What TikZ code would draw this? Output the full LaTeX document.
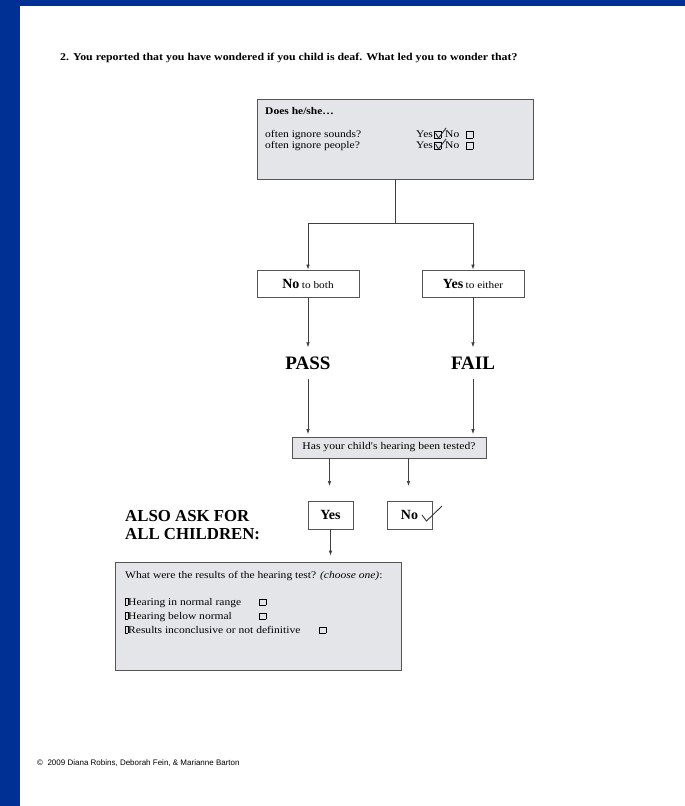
\documentclass[tikz,border=0pt]{standalone}
\usepackage{fontspec}
\setmainfont{Liberation Serif}
\newfontfamily\widef[FakeStretch=1.13]{Liberation Serif}
\newfontfamily\arialf{Liberation Sans}
\usetikzlibrary{arrows.meta}
\definecolor{slideblue}{RGB}{0,48,148}
\definecolor{boxfill}{RGB}{227,229,233}
\definecolor{boxline}{RGB}{85,85,85}
\newcommand\cbx{{\setlength\fboxsep{0pt}\setlength\fboxrule{0.4pt}\fbox{\rule{0pt}{6pt}\rule{6pt}{0pt}}}}
\newcommand\gbx{{\setlength\fboxsep{0pt}\setlength\fboxrule{0.4pt}\fbox{\rule{0pt}{6.5pt}\rule{2.2pt}{0pt}}}}
\begin{document}
\begin{tikzpicture}[x=1pt,y=-1pt,
  gbox/.style={draw=boxline,fill=boxfill,line width=0.8pt,inner sep=0pt},
  wbox/.style={draw=boxline,fill=white,line width=0.8pt,inner sep=0pt},
  conn/.style={draw=black!75,line width=0.7pt},
  arr/.style={conn,-{Latex[length=5pt,width=3.6pt]}},
  txt/.style={inner sep=0pt,anchor=base west,font=\widef\fontsize{10.2}{12}\selectfont},
  big/.style={font=\fontsize{19}{19}\selectfont\bfseries,inner xsep=0pt,inner ysep=9pt,text height=13pt,text depth=0pt},
  chk/.style={line width=0.9pt,black!80}]
\useasboundingbox (0,0) rectangle (685,806);
\fill[slideblue] (0,0) rectangle (685,806);
\fill[white] (20,6) rectangle (685,806);

% title
\node[inner sep=0pt,anchor=base west,font=\widef\fontsize{10.5}{12}\selectfont\bfseries] (title) at (60,60.5)
  {2. You reported that you have wondered if you child is deaf. What led you to wonder that?};

% top question box
\node[gbox,minimum width=276pt,minimum height=80pt] (q) at (395,139) {};
\node[txt,font=\widef\fontsize{10.2}{12}\selectfont\bfseries] (q0) at (265,114) {Does he/she\dots};
\node[txt] (q1) at (265,137.5) {often ignore sounds?};
\node[txt] (q2) at (265,148.5) {often ignore people?};
\node[txt] (y1) at (416,137.5) {Yes};
\node[txt] (b1) at (434,137.5) {\cbx};
\node[txt] (n1) at (445,137.5) {No};
\node[txt] (e1) at (466,137.5) {\cbx};
\node[txt] (y2) at (416,148.5) {Yes};
\node[txt] (b2) at (434,148.5) {\cbx};
\node[txt] (n2) at (445,148.5) {No};
\node[txt] (e2) at (466,148.5) {\cbx};
\draw[chk] (435.5,133) -- (438.5,138) -- (446,128);
\draw[chk] (435.5,144) -- (438.5,149) -- (446,139);

% branch
\coordinate (j) at (395,223);
\node[wbox,minimum width=102pt,minimum height=27pt] (nob) at (308,283.5)
  {{\fontsize{14}{14}\selectfont\bfseries No} {\widef\fontsize{10}{10}\selectfont to both}};
\node[wbox,minimum width=102pt,minimum height=27pt] (yesb) at (473,283.5)
  {{\fontsize{14}{14}\selectfont\bfseries Yes} {\widef\fontsize{10}{10}\selectfont to either}};
\draw[conn] (q.south) -- (j);
\draw[arr] (j) -| (nob.north);
\draw[arr] (j) -| (yesb.north);

\node[big] (pass) at (308,363) {PASS};
\node[big] (fail) at (473,363) {FAIL};
\draw[arr] (nob.south) -- (pass.north);
\draw[arr] (yesb.south) -- (fail.north);

% hearing tested
\node[gbox,minimum width=194pt,minimum height=21pt,font=\widef\fontsize{10.3}{12}\selectfont] (has) at (389,447.5)
  {Has your child's hearing been tested?};
\draw[arr,shorten >=2.5pt] (pass.south) -- (pass.south |- has.north);
\draw[arr,shorten >=2.5pt] (fail.south) -- (fail.south |- has.north);

\coordinate (ya) at (329.5,486);
\coordinate (na) at (408.5,486);
\draw[arr] (has.south -| ya) -- (ya);
\draw[arr] (has.south -| na) -- (na);

\node[wbox,minimum width=45pt,minimum height=28pt,font=\fontsize{14}{14}\selectfont\bfseries] (yb) at (330.5,515) {Yes};
\node[wbox,minimum width=45pt,minimum height=28pt,font=\fontsize{14}{14}\selectfont\bfseries] (nb) at (409.5,515) {No};
\draw[chk] (422,515) -- (426.5,521) -- (442,506);

\node[inner sep=0pt,anchor=base west,font=\fontsize{16.8}{18}\selectfont\bfseries] (also1) at (125,521) {ALSO ASK FOR};
\node[inner sep=0pt,anchor=base west,font=\fontsize{16.8}{18}\selectfont\bfseries] (also2) at (125,539) {ALL CHILDREN:};

% results box
\node[gbox,minimum width=286pt,minimum height=108pt] (res) at (258,616) {};
\draw[arr,shorten >=6pt] (yb.south) -- (yb.south |- res.north);
\node[txt] (r0) at (125,578) {What were the results of the hearing test? \textit{(choose one)}:};
\node[txt] (r1) at (125,605) {\gbx Hearing in normal range};
\node[txt] (r2) at (125,619) {\gbx Hearing below normal};
\node[txt] (r3) at (125,633) {\gbx Results inconclusive or not definitive};
\node[txt] (c1) at (259,605) {\cbx};
\node[txt] (c2) at (259,619) {\cbx};
\node[txt] (c3) at (319,633) {\cbx};

% footer
\node[inner sep=0pt,anchor=base west,font=\arialf\fontsize{8}{10}\selectfont] (copy) at (37,765)
  {\textcopyright\ \ 2009 Diana Robins, Deborah Fein, \& Marianne Barton};
\end{tikzpicture}
\end{document}
